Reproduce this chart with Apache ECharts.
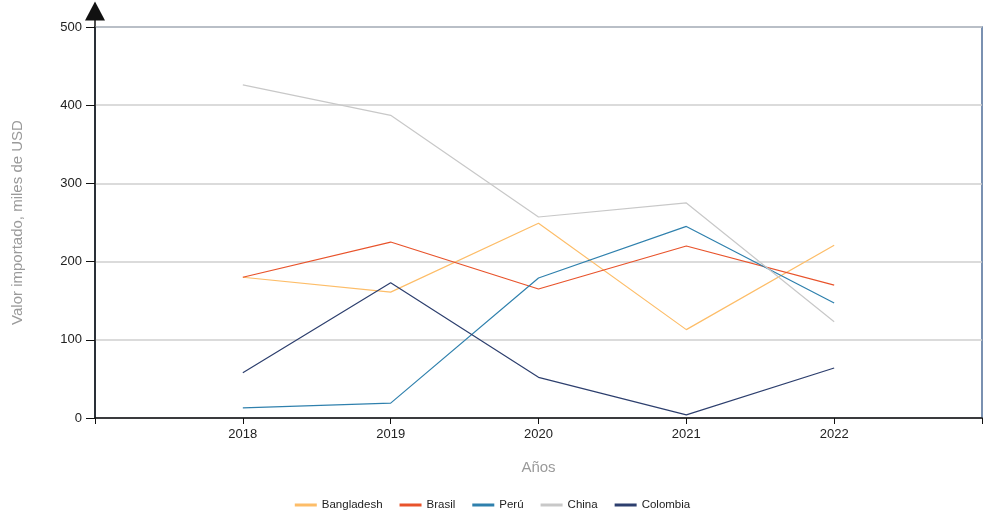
<!DOCTYPE html>
<html>
<head>
<meta charset="utf-8">
<script src="https://cdn.jsdelivr.net/npm/echarts@6/dist/echarts.min.js"></script>
<style>
  html, body { margin: 0; padding: 0; background: #ffffff; }
  #chart { width: 985px; height: 513px; }
</style>
</head>
<body>
<div id="chart"></div>
<script>
// Import values by country, thousands of USD
const years = [2018, 2019, 2020, 2021, 2022];
const bangladesh = [180, 161, 249, 113, 221];
const brasil = [180, 225, 165, 220, 170];
const peru = [13, 19, 179, 245, 147];
const china = [426, 387, 257, 275, 123];
const colombia = [58, 173, 52, 4, 64];

const seriesNames = ['Bangladesh', 'Brasil', 'Perú', 'China', 'Colombia'];
const seriesValues = [bangladesh, brasil, peru, china, colombia];
const seriesColors = ['#fdbd68', '#e8532b', '#2f80ad', '#c8c8c8', '#2d3f6e'];

const FONT = '"Liberation Sans", Arial, sans-serif';

const chart = echarts.init(document.getElementById('chart'), null, { renderer: 'canvas' });

chart.setOption({
  animation: false,
  backgroundColor: '#ffffff',
  textStyle: { fontFamily: FONT },
  grid: {
    left: 95, right: 3, top: 27, bottom: 95,
    show: true, borderColor: '#4f6d98', borderWidth: 1.5, backgroundColor: 'transparent'
  },
  legend: {
    bottom: -3,
    left: 'center',
    itemWidth: 22,
    itemHeight: 3,
    itemGap: 17,
    icon: 'rect',
    textStyle: { fontSize: 11.5, color: '#222', fontFamily: FONT },
    data: seriesNames
  },
  xAxis: {
    type: 'value',
    min: years[0] - 1,
    max: years[years.length - 1] + 1,
    interval: 1,
    name: 'Años',
    nameLocation: 'middle',
    nameGap: 42,
    nameTextStyle: { fontSize: 15, color: '#9a9a9a', fontFamily: FONT },
    axisLine: { show: true, lineStyle: { color: '#111', width: 1.5 } },
    axisTick: { show: true, inside: false, length: 6, lineStyle: { color: '#111' } },
    axisLabel: {
      fontSize: 13, color: '#222', margin: 10,
      formatter: v => (years.indexOf(v) >= 0 ? String(v) : '')
    },
    splitLine: { show: false }
  },
  yAxis: {
    type: 'value',
    min: 0, max: 500, interval: 100,
    name: 'Valor importado, miles de USD',
    nameLocation: 'middle',
    nameGap: 70,
    nameTextStyle: { fontSize: 15, color: '#9a9a9a', fontFamily: FONT },
    axisLine: {
      show: true,
      lineStyle: { color: '#111', width: 1.5 },
      symbol: ['none', 'triangle'],
      symbolSize: [20, 19],
      symbolOffset: [0, 16]
    },
    axisTick: { show: true, inside: false, length: 9, lineStyle: { color: '#111' } },
    axisLabel: { fontSize: 13, color: '#222', margin: 13 },
    splitLine: { show: true, lineStyle: { color: '#cfcfcf', width: 1.5 } }
  },
  graphic: [{
    // joins the axis line to the arrowhead
    type: 'line',
    shape: { x1: 95, y1: 19, x2: 95, y2: 28 },
    style: { stroke: '#111', lineWidth: 1.5 }
  }],
  series: seriesNames.map((name, i) => ({
    name,
    type: 'line',
    symbol: 'none',
    color: seriesColors[i],
    lineStyle: { width: 1.2, color: seriesColors[i] },
    data: years.map((y, j) => [y, seriesValues[i][j]])
  }))
});
</script>
</body>
</html>
